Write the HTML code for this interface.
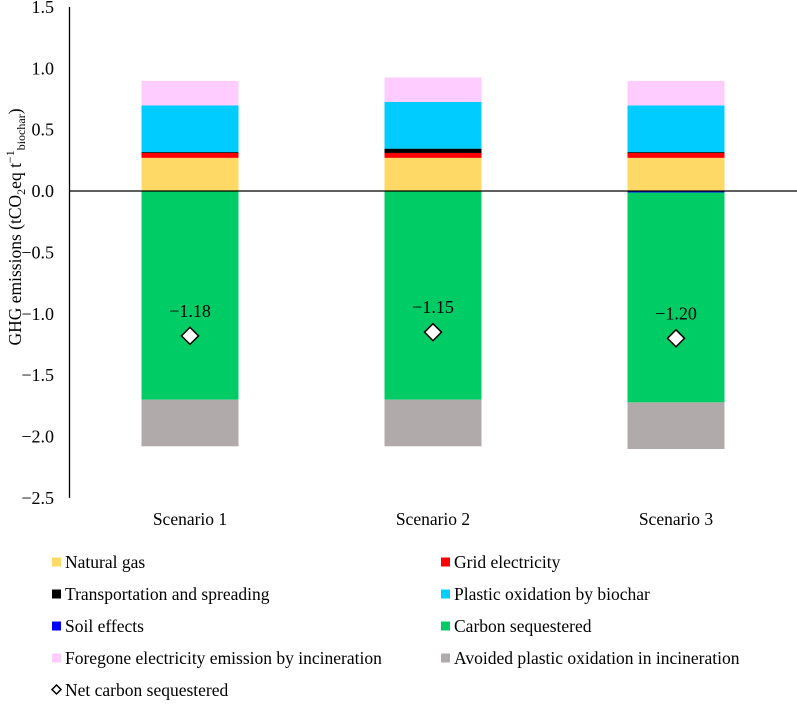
<!DOCTYPE html>
<html><head><meta charset="utf-8"><style>
body{margin:0;background:#fff;}
svg text{font-family:"Liberation Serif","Times New Roman",serif;fill:#000;}
</style></head><body>
<svg id="chart" width="797" height="701" xmlns="http://www.w3.org/2000/svg" font-family="Liberation Serif, serif"></svg>
<script>
const categories=["Scenario 1","Scenario 2","Scenario 3"];
const seriesNames=["Natural gas","Grid electricity","Transportation and spreading","Plastic oxidation by biochar","Soil effects","Carbon sequestered","Foregone electricity emission by incineration","Avoided plastic oxidation in incineration"];
const seriesColors=["#ffd966","#ff0000","#000000","#00ccff","#0000ff","#00cc66","#ffccff","#b0aaaa"];
const naturalGas=[0.27,0.27,0.27];
const gridElectricity=[0.04,0.04,0.04];
const transportation=[0.007,0.035,0.007];
const plasticOxidation=[0.38,0.38,0.38];
const soilEffects=[0,0,-0.012];
const carbonSequestered=[-1.70,-1.70,-1.71];
const foregoneElectricity=[0.20,0.20,0.20];
const avoidedPlastic=[-0.38,-0.38,-0.38];
const netCarbon=[-1.18,-1.15,-1.20];
const netLabels=["\u22121.18","\u22121.15","\u22121.20"];
const yTicks=[1.5,1.0,0.5,0.0,-0.5,-1.0,-1.5,-2.0,-2.5];
const yTickLabels=["1.5","1.0","0.5","0.0","\u22120.5","\u22121.0","\u22121.5","\u22122.0","\u22122.5"];

const svg=document.getElementById('chart');
const NS="http://www.w3.org/2000/svg";
const FF="Liberation Serif, serif";
function mk(t,a){const e=document.createElementNS(NS,t);for(const k in a)e.setAttribute(k,a[k]);svg.appendChild(e);return e;}
const y=v=>191-v*122.75;
const x=i=>190+i*243;
const bw=97;
const allSeries=[naturalGas,gridElectricity,transportation,plasticOxidation,soilEffects,carbonSequestered,foregoneElectricity,avoidedPlastic];

categories.forEach((c,i)=>{
  let pos=0,neg=0;
  allSeries.forEach((s,k)=>{
    const v=s[i]; if(!v)return;
    let a,b;
    if(v>0){a=pos;b=pos+v;pos=b;}else{a=neg;b=neg+v;neg=b;}
    const r=mk('rect',{x:x(i)-bw/2,y:Math.min(y(a),y(b)),width:bw,height:Math.abs(y(a)-y(b)),fill:seriesColors[k]});
    
    
  });
});
const ax=mk('line',{x1:69.5,y1:y(1.5),x2:69.5,y2:y(-2.5),stroke:'#000','stroke-width':1.3});


const zl=mk('line',{x1:69.5,y1:y(0),x2:797,y2:y(0),stroke:'#000','stroke-width':1.3});


yTicks.forEach((t,i)=>{
  const e=mk('text',{x:54,y:y(t)+6,'text-anchor':'end','font-size':18,'font-family':FF});
  e.textContent=yTickLabels[i];
  
  
});
categories.forEach((c,i)=>{
  const e=mk('text',{x:x(i),y:525,'text-anchor':'middle','font-size':17.5,'font-family':FF});
  e.textContent=c;
  
  
});
netCarbon.forEach((v,i)=>{
  const cx=x(i),cy=y(v),d=8.5;
  const p=mk('polygon',{points:`${cx},${cy-d} ${cx+d},${cy} ${cx},${cy+d} ${cx-d},${cy}`,fill:'#fff',stroke:'#000','stroke-width':1.5});
  
  
  const t=mk('text',{x:cx,y:cy-19,'text-anchor':'middle','font-size':18,'font-family':FF});
  t.textContent=netLabels[i];
  
  
});
const yt=mk('text',{transform:'translate(21,227) rotate(-90)','text-anchor':'middle','font-size':17.5,'font-family':FF});
yt.innerHTML='GHG emissions (tCO<tspan font-size="12" dy="4">2</tspan><tspan dy="-4">eq t</tspan><tspan font-size="12" dy="-7">\u22121</tspan><tspan font-size="12" dy="11">biochar</tspan><tspan dy="-4">)</tspan>';


seriesNames.forEach((n,k)=>{
  const col=k%2,row=Math.floor(k/2);
  const lx=col?441:52,ly=562+row*32;
  const r=mk('rect',{x:lx,y:ly-4.5,width:9,height:9,fill:seriesColors[k]});
  
  
  const t=mk('text',{x:lx+13,y:ly+6,'font-size':17.5,'font-family':FF});
  t.textContent=n;
  
  
});
const ld=mk('polygon',{points:'56.5,685 61,689.5 56.5,694 52,689.5',fill:'#fff',stroke:'#000','stroke-width':1.5});


const lt=mk('text',{x:65,y:696,'font-size':17.5,'font-family':FF});
lt.textContent='Net carbon sequestered';


</script>
</body></html>
